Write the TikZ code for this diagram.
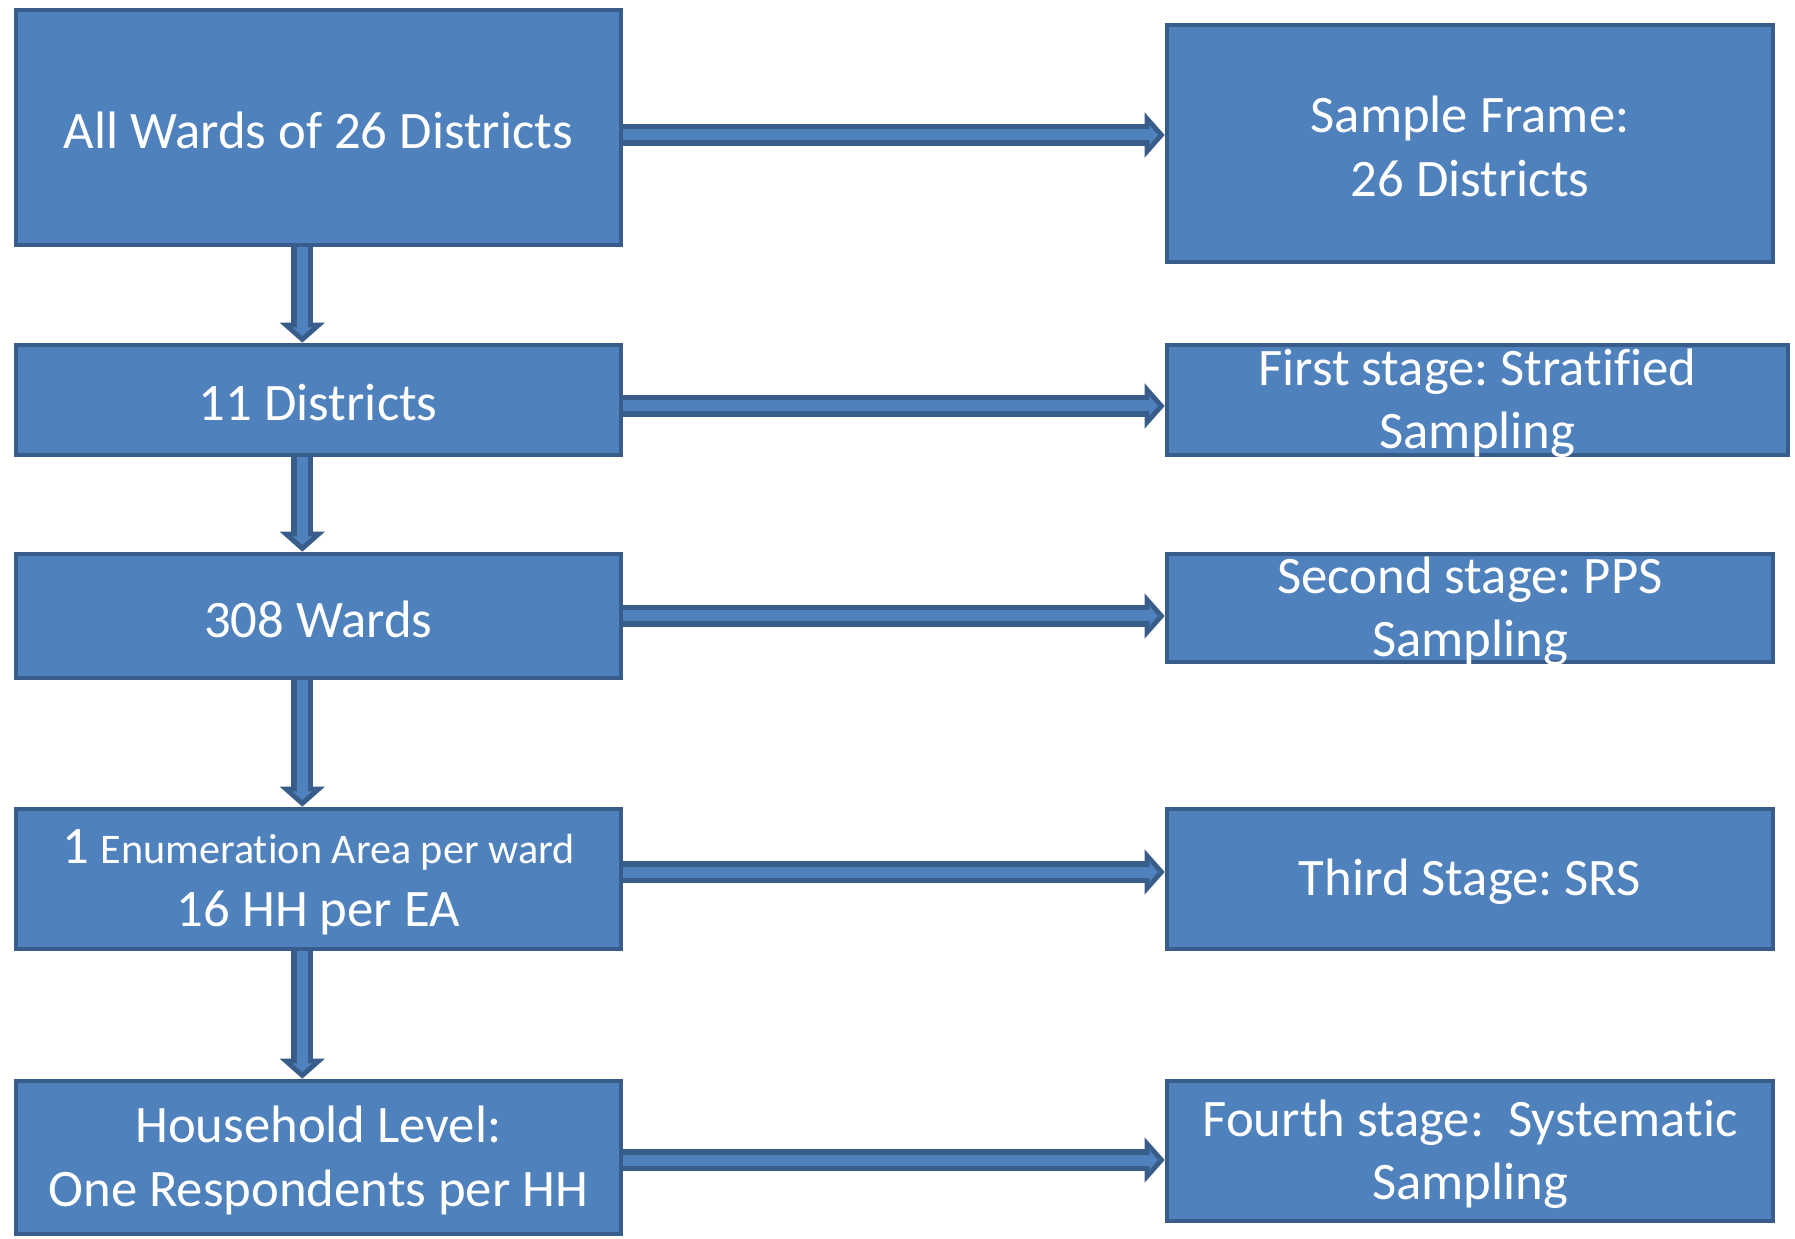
\documentclass[tikz,border=0pt]{standalone}
\usepackage{fontspec}
\setmainfont{Carlito}[Ligatures={NoCommon}]
\usetikzlibrary{arrows.meta}
\definecolor{boxfill}{HTML}{4F81BD}
\definecolor{boxline}{HTML}{385D8A}
\frenchspacing

\begin{document}
\begin{tikzpicture}
    \tikzstyle{stage}=[draw=boxline, fill=boxfill, line width=1.3pt, inner sep=0pt]
    \tikzstyle{stage text}=[text=white, align=center, yshift=-0.03cm, font=\fontsize{15pt}{18pt}\selectfont]
    \tikzstyle{arrow out}=[boxline, line width=0.22cm, -{Triangle[length=0.2cm,width=0.44cm]}]
    \tikzstyle{arrow in}=[boxfill, line width=0.11cm, shorten >=0.068cm, -{Triangle[length=0.085cm,width=0.19cm]}]

    \useasboundingbox (0,0) rectangle (17.95,-12.39);

    % Draw the left column (selection steps)
    \node[stage, minimum width=6.05cm, minimum height=2.35cm,
        label={[stage text]center:All Wards of 26 Districts}] (L-1) at (3.183,-1.275) {};
    \node[stage, minimum width=6.05cm, minimum height=1.10cm,
        label={[stage text]center:11 Districts}] (L-2) at (3.183,-4.00) {};
    \node[stage, minimum width=6.05cm, minimum height=1.24cm,
        label={[stage text]center:308 Wards}] (L-3) at (3.183,-6.16) {};
    \node[stage, minimum width=6.05cm, minimum height=1.40cm,
        label={[stage text]center:1 {\fontsize{12pt}{18pt}\selectfont Enumeration Area per ward}\\16 HH per EA}] (L-4) at (3.183,-8.79) {};
    \node[stage, minimum width=6.05cm, minimum height=1.53cm,
        label={[stage text]center:Household Level:\\One Respondents per HH}] (L-5) at (3.183,-11.575) {};

    % Draw the right column (sampling stages)
    \node[stage, minimum width=6.06cm, minimum height=2.37cm,
        label={[stage text]center:Sample Frame:\\26 Districts}] (R-1) at (14.70,-1.435) {};
    \node[stage, minimum width=6.21cm, minimum height=1.10cm,
        label={[stage text]center:First stage: Stratified\\Sampling}] (R-2) at (14.775,-4.00) {};
    \node[stage, minimum width=6.06cm, minimum height=1.08cm,
        label={[stage text]center:Second stage: PPS\\Sampling}] (R-3) at (14.70,-6.08) {};
    \node[stage, minimum width=6.06cm, minimum height=1.40cm,
        label={[stage text]center:Third Stage: SRS}] (R-4) at (14.70,-8.79) {};
    \node[stage, minimum width=6.06cm, minimum height=1.40cm,
        label={[stage text]center:Fourth stage:~ Systematic\\Sampling}] (R-5) at (14.70,-11.51) {};

    % Connect every step with the next one
    \foreach \source / \dest in {1/2,2/3,3/4,4/5} {
        \draw[arrow out] ([xshift=-0.16cm]L-\source.south) -- ([xshift=-0.16cm]L-\dest.north);
        \draw[arrow in] ([xshift=-0.16cm]L-\source.south) -- ([xshift=-0.16cm]L-\dest.north);
    }

    % Connect every step with its stage
    \foreach \i / \dy in {1/-0.075,2/-0.06,3/0,4/0.07,5/-0.025} {
        \draw[arrow out] ([yshift=\dy cm]L-\i.east) -- ([yshift=\dy cm]L-\i.east -| R-\i.west);
        \draw[arrow in] ([yshift=\dy cm]L-\i.east) -- ([yshift=\dy cm]L-\i.east -| R-\i.west);
    }
\end{tikzpicture}
\end{document}
